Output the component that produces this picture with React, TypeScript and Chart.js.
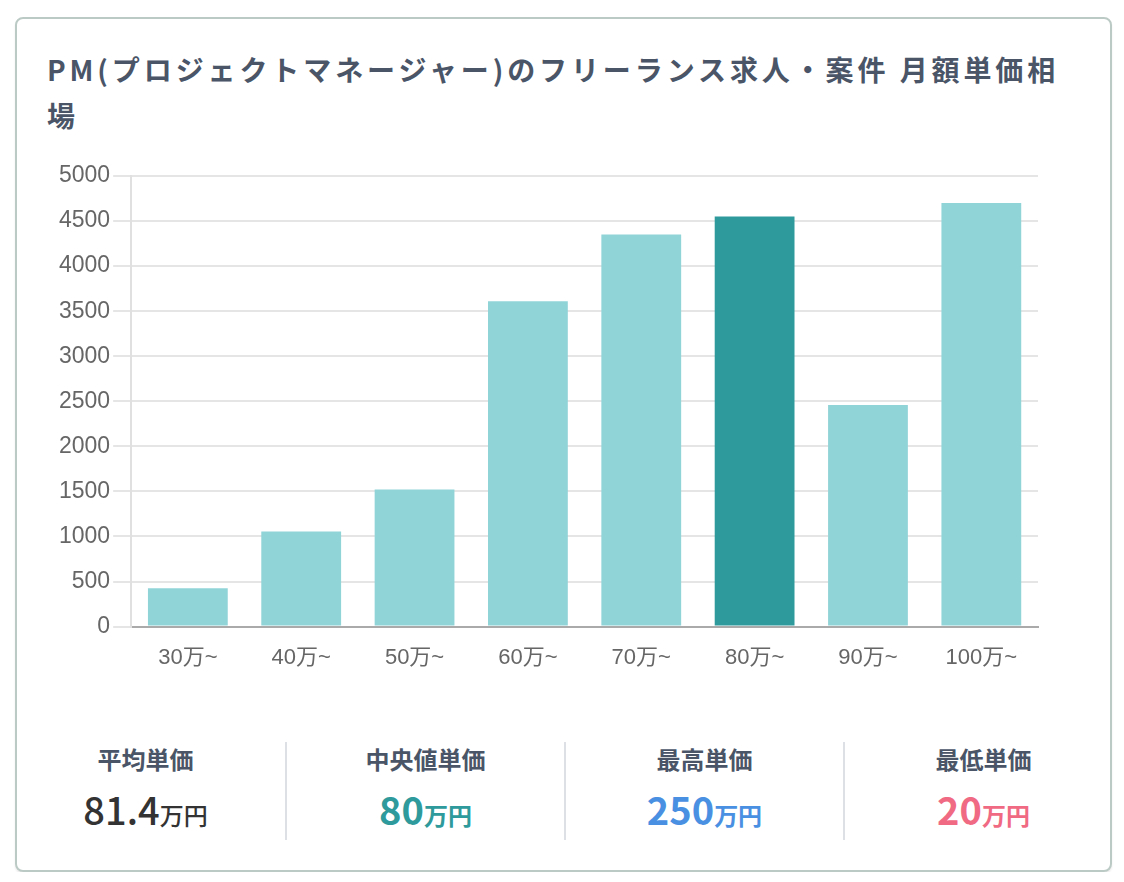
import React, { useRef, useEffect } from 'react';
import { Chart, ChartConfiguration } from 'chart.js/auto';

// bucket labels along the x axis
const categories = ['30万~', '40万~', '50万~', '60万~', '70万~', '80万~', '90万~', '100万~'];
// number of listings per bucket
const jobCounts = [425, 1055, 1520, 3610, 4350, 4550, 2460, 4700];
// the bucket holding the median is highlighted
const highlightIndex = 5;

const statLabels = ['平均単価', '中央値単価', '最高単価', '最低単価'];
const statValues = ['81.4', '80', '250', '20'];
const statColors = ['#333333', '#2e9a9b', '#4a90e2', '#f06a84'];

const TITLE = 'PM(プロジェクトマネージャー)のフリーランス求人・案件 月額単価相場';
const JP_FONT = '"Noto Sans CJK JP", "Noto Sans", sans-serif';
const CHART_FONT = '"Helvetica Neue", Helvetica, Arial, "Noto Sans CJK JP", sans-serif';

const PriceChart: React.FC = () => {
  const chartRef = useRef<HTMLCanvasElement | null>(null);
  const chartInstance = useRef<Chart | null>(null);

  useEffect(() => {
    if (chartInstance.current) {
      chartInstance.current.destroy();
      chartInstance.current = null;
    }

    const colors = jobCounts.map((_, i) => (i === highlightIndex ? '#2e9a9c' : '#91d4d8'));

    const chartConfig: ChartConfiguration = {
      type: 'bar',
      data: {
        labels: categories,
        datasets: [
          {
            label: '案件数',
            data: jobCounts,
            backgroundColor: colors,
            borderWidth: 0,
            barPercentage: 0.88,
            categoryPercentage: 0.8,
          },
        ],
      },
      options: {
        animation: false,
        responsive: true,
        maintainAspectRatio: false,
        layout: { padding: { top: 20, left: 9, right: 42, bottom: 0 } },
        plugins: {
          legend: { display: false },
          tooltip: { enabled: false },
        },
        scales: {
          x: {
            grid: { display: false },
            border: { display: true, color: '#aaaaaa', width: 2 },
            ticks: {
              color: '#666666',
              padding: 10,
              font: { family: CHART_FONT, size: 22 },
            },
          },
          y: {
            min: 0,
            max: 5000,
            grid: { color: '#e5e5e5', lineWidth: 2, tickLength: 18 },
            border: { display: true, color: '#e0e0e0', width: 2 },
            ticks: {
              stepSize: 500,
              color: '#666666',
              padding: 3,
              font: { family: CHART_FONT, size: 23 },
              callback: (value) => String(value),
            },
          },
        },
      },
    };

    if (chartRef.current) {
      const ctx = chartRef.current.getContext('2d');
      if (ctx) {
        chartInstance.current = new Chart(ctx, chartConfig);
      }
    }

    return () => {
      if (chartInstance.current) {
        chartInstance.current.destroy();
        chartInstance.current = null;
      }
    };
  }, []);

  return (
    <div style={{ position: 'relative', width: 1033, height: 525, marginTop: 18 }}>
      <canvas ref={chartRef} />
    </div>
  );
};

const App: React.FC = () => {
  return (
    <div
      style={{
        boxSizing: 'border-box',
        width: 1097,
        height: 855,
        margin: '9px 0 0 7px',
        padding: '27px 30px 0 30px',
        border: '2px solid #bccac6',
        borderRadius: 8,
        boxShadow: '0 2px 2px rgba(0,0,0,0.08)',
        background: '#fff',
        fontFamily: JP_FONT,
      }}
    >
      <div
        style={{
          width: 1035,
          fontSize: 28,
          fontWeight: 700,
          lineHeight: '46px',
          letterSpacing: '3.9px',
          color: '#4a5568',
        }}
      >
        {TITLE}
      </div>
      <PriceChart />
      <div style={{ display: 'flex', width: 1116, marginLeft: -41, marginTop: 61 }}>
        {statLabels.map((label, i) => (
          <div
            key={label}
            style={{
              width: 279,
              height: 98,
              boxSizing: 'border-box',
              borderLeft: i === 0 ? 'none' : '2px solid #dde1e6',
              textAlign: 'center',
            }}
          >
            <div style={{ fontSize: 24, fontWeight: 700, lineHeight: '34px', color: '#4a5568' }}>
              {label}
            </div>
            <div
              style={{
                marginTop: 9,
                lineHeight: '48px',
                color: statColors[i],
                fontWeight: i === 0 ? 500 : 700,
              }}
            >
              <span style={{ fontSize: 38 }}>{statValues[i]}</span>
              <span style={{ fontSize: 24 }}>万円</span>
            </div>
          </div>
        ))}
      </div>
    </div>
  );
};

export default App;
